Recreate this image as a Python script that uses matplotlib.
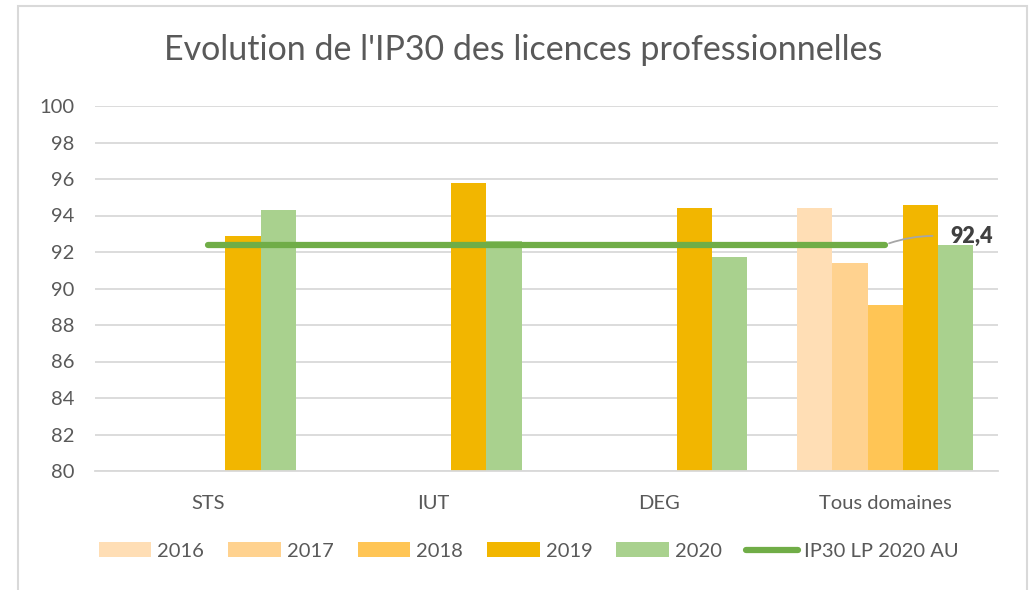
import numpy as np
import matplotlib
matplotlib.use("Agg")
import matplotlib.pyplot as plt
from matplotlib.patches import Patch, Rectangle
from matplotlib.lines import Line2D

plt.rcParams['font.family'] = ['Lato', 'DejaVu Sans']

categories = ["STS", "IUT", "DEG", "Tous domaines"]
years = ["2016", "2017", "2018", "2019", "2020"]
values = {
    "2016": [np.nan, np.nan, np.nan, 94.4],
    "2017": [np.nan, np.nan, np.nan, 91.4],
    "2018": [np.nan, np.nan, np.nan, 89.1],
    "2019": [92.9, 95.8, 94.4, 94.6],
    "2020": [94.3, 92.6, 91.7, 92.4],
}
ref_value = 92.4
ref_label = "IP30 LP 2020 AU"
ref_text = "92,4"
title = "Evolution de l'IP30 des licences professionnelles"
yticks = list(range(80, 101, 2))

colors = ["#FFDEB5", "#FFD28F", "#FFC555", "#F2B600", "#A9D18E"]
line_color = "#70AD47"
text_color = "#595959"
grid_color = "#D9D9D9"

fig = plt.figure(figsize=(10.29, 5.9), dpi=100)
W, H = 1029, 590
ax = fig.add_axes([95 / W, 1 - 471 / H, (998 - 95) / W, (471 - 106) / H])

x = np.arange(len(categories))
bw = 0.156
for i, y in enumerate(years):
    ax.bar(x + (i - 2) * bw, values[y], width=bw, color=colors[i], zorder=2)

ax.plot([x[0], x[-1]], [ref_value] * 2, color=line_color, lw=4.5,
        solid_capstyle='round', zorder=3)

ax.annotate("", xy=(x[-1], ref_value), xytext=(3.21, 92.88),
            arrowprops=dict(arrowstyle='-', color='#A6A6A6', lw=1.3,
                            shrinkA=0, shrinkB=3,
                            connectionstyle="angle3,angleA=180,angleB=20"),
            zorder=4)
ax.text(3.29, 92.85, ref_text, fontsize=15.5, fontweight='heavy',
        color="#404040", ha='left', va='center', zorder=5)

ax.set_xlim(-0.5, 3.5)
ax.set_ylim(80, 100)
ax.set_yticks(yticks)
ax.set_xticks(x)
ax.set_xticklabels(categories)
ax.tick_params(axis='both', length=0, labelsize=14.5, colors=text_color)
ax.tick_params(axis='x', pad=17)
ax.tick_params(axis='y', pad=15)
ax.grid(axis='y', color=grid_color, lw=1.3, zorder=0)
ax.set_axisbelow(True)
for s in ['top', 'right', 'left']:
    ax.spines[s].set_visible(False)
ax.spines['bottom'].set_color(grid_color)
ax.spines['bottom'].set_linewidth(1.3)

fig.text(523 / W, 1 - 50 / H, title, fontsize=24.5, color=text_color,
         ha='center', va='center')

handles = [Patch(facecolor=c, edgecolor='none') for c in colors]
handles.append(Line2D([0], [0], color=line_color, lw=4.5, solid_capstyle='round'))
leg = fig.legend(handles, years + [ref_label], loc='center',
                 bbox_to_anchor=(529 / W, 1 - 551 / H), ncol=6, frameon=False,
                 fontsize=14.5, handlelength=2.6, handleheight=0.7,
                 columnspacing=1.2, handletextpad=0.3)
for t in leg.get_texts():
    t.set_color(text_color)

border = Rectangle((18 / W, -0.05), (1027 - 18) / W, 1 - 6 / H + 0.05,
                   transform=fig.transFigure, fill=False,
                   edgecolor=grid_color, lw=1.5)
fig.patches.append(border)

fig.savefig("out.png", dpi=100)
